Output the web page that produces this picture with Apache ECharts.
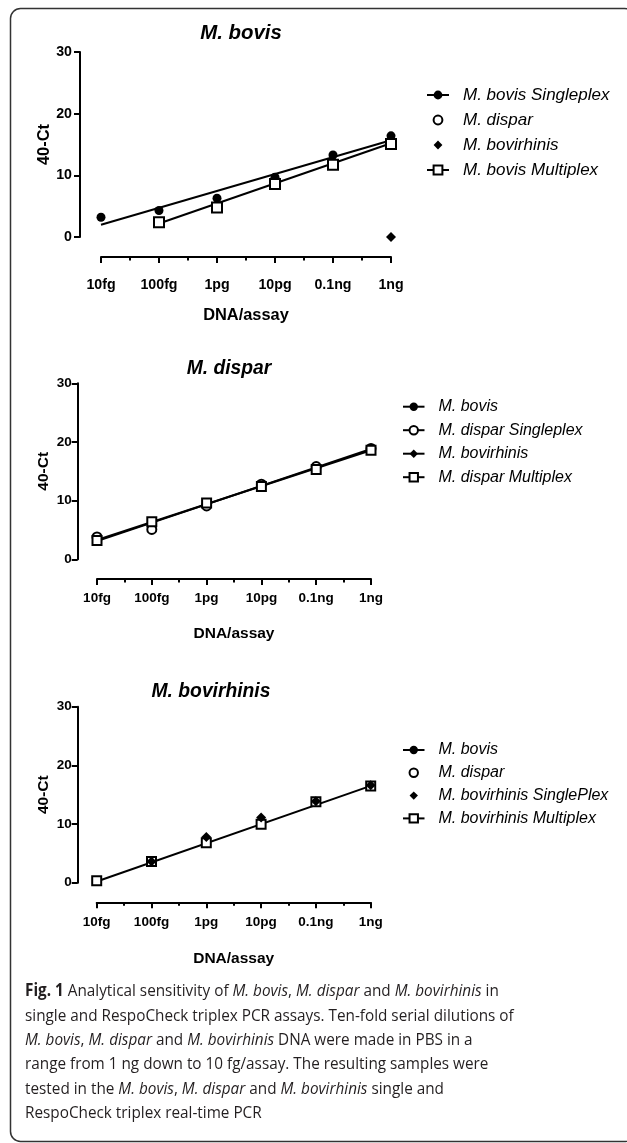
<!DOCTYPE html>
<html><head><meta charset="utf-8">
<script src="https://cdn.jsdelivr.net/npm/echarts@6/dist/echarts.min.js"></script>
<style>html,body{margin:0;padding:0;background:#fff}#c{width:627px;height:1143px}</style>
</head><body><div id="c"></div>
<script>
// ---------- data ----------
const doses = ['10fg', '100fg', '1pg', '10pg', '0.1ng', '1ng'];
const yTicks = [0, 10, 20, 30];

// Panel 1: M. bovis assay
const p1BovisSingle = [3.2, 4.3, 6.3, 9.7, 13.3, 16.4];
const p1Dispar = [];
const p1Bovirhinis = [null, null, null, null, null, 0.0];
const p1BovisMulti = [null, 2.4, 4.8, 8.6, 11.7, 15.1];
const p1SingleFit = [2.0, null, null, null, null, 15.7];
const p1MultiFit = [null, 2.2, null, null, null, 15.2];

// Panel 2: M. dispar assay
const p2Bovis = [];
const p2DisparSingle = [3.8, 5.1, 9.1, 12.8, 15.8, 18.9];
const p2Bovirhinis = [];
const p2DisparMulti = [3.2, 6.4, 9.6, 12.4, 15.3, 18.6];
const p2SingleFit = [3.1, null, null, null, null, 18.8];
const p2MultiFit = [3.3, null, null, null, null, 18.6];

// Panel 3: M. bovirhinis assay
const p3Bovis = [];
const p3Dispar = [];
const p3BovirhinisSingle = [null, 3.6, 7.8, 11.1, 13.9, 16.6];
const p3BovirhinisMulti = [0.35, 3.6, 6.8, 9.95, 13.8, 16.5];
const p3MultiFit = [0.2, null, null, null, null, 16.5];

const titles = ['M. bovis', 'M. dispar', 'M. bovirhinis'];
const captionLines = [
  '{b|Fig. 1} Analytical sensitivity of {i|M. bovis}, {i|M. dispar} and {i|M. bovirhinis} in',
  'single and RespoCheck triplex PCR assays. Ten-fold serial dilutions of',
  '{i|M. bovis}, {i|M. dispar} and {i|M. bovirhinis} DNA were made in PBS in a',
  'range from 1 ng down to 10 fg/assay. The resulting samples were',
  'tested in the {i|M. bovis}, {i|M. dispar} and {i|M. bovirhinis} single and',
  'RespoCheck triplex real-time PCR'
];

// ---------- styles / layout ----------
const FF = '"Liberation Sans", Arial, sans-serif';
const CF = '"Open Sans", "Noto Sans", sans-serif';
const FILLED_CIRCLE = {symbol: 'circle', itemStyle: {color: '#000'}};
const OPEN_CIRCLE = {symbol: 'circle', itemStyle: {color: '#fff', borderColor: '#000', borderWidth: 2}};
const DIAMOND = {symbol: 'diamond', itemStyle: {color: '#000'}};
const OPEN_SQUARE = {symbol: 'rect', itemStyle: {color: '#fff', borderColor: '#000', borderWidth: 2}};

const layout = [
  {grid: {left: 101, top: 52, width: 290, height: 185}, yOff: 21, xOff: 20, fs: 14.2, nfs: 16.4, xMargin: 21, yMargin: 8, yNameGap: 28, xNameGap: 50,
   title: {x: 241, y: 33, fs: 20.4},
   legend: {left: 426, top: 86.5, iw: 22, ih: 11, gap: 8, fs: 17}},
  {grid: {left: 97, top: 383.3, width: 274, height: 176}, yOff: 19.3, xOff: 19.7, fs: 13.5, nfs: 15.5, xMargin: 12.5, yMargin: 6, yNameGap: 26, xNameGap: 47,
   title: {x: 229, y: 369, fs: 19.3},
   legend: {left: 402, top: 398.7, iw: 21.5, ih: 10.5, gap: 7.5, fs: 16}},
  {grid: {left: 96.7, top: 706.7, width: 274, height: 176}, yOff: 19, xOff: 19.6, fs: 13.5, nfs: 15.5, xMargin: 12.5, yMargin: 6, yNameGap: 26, xNameGap: 48,
   title: {x: 211, y: 691.7, fs: 19.3},
   legend: {left: 402, top: 742, iw: 21.5, ih: 10.5, gap: 6.8, fs: 16}}
];

function pts(arr) {
  const out = [];
  arr.forEach((v, i) => { if (v != null) out.push([i, v]); });
  return out;
}
function ptSeries(name, idx, arr, sty, size, z) {
  return {type: 'line', name: name, xAxisIndex: idx, yAxisIndex: idx, data: pts(arr),
    symbol: sty.symbol, symbolSize: size, showSymbol: true, itemStyle: sty.itemStyle,
    lineStyle: {color: '#000', width: 2, opacity: 0}, z: z, emphasis: {disabled: true}};
}
function fitSeries(name, idx, arr) {
  return {type: 'line', name: name, xAxisIndex: idx, yAxisIndex: idx, data: pts(arr),
    symbol: 'none', lineStyle: {color: '#000', width: 2}, z: 1, emphasis: {disabled: true}};
}

const series = [
  fitSeries('fit1s', 0, p1SingleFit),
  fitSeries('fit1m', 0, p1MultiFit),
  ptSeries('M. bovis Singleplex', 0, p1BovisSingle, FILLED_CIRCLE, 9, 3),
  ptSeries('M. dispar', 0, p1Dispar, OPEN_CIRCLE, 9, 3),
  ptSeries('M. bovirhinis', 0, p1Bovirhinis, DIAMOND, 10, 3),
  ptSeries('M. bovis Multiplex', 0, p1BovisMulti, OPEN_SQUARE, 10, 4),

  fitSeries('fit2s', 1, p2SingleFit),
  fitSeries('fit2m', 1, p2MultiFit),
  ptSeries('M. bovis', 1, p2Bovis, FILLED_CIRCLE, 9, 3),
  ptSeries('M. dispar Singleplex', 1, p2DisparSingle, OPEN_CIRCLE, 9, 3),
  ptSeries('M. bovirhinis', 1, p2Bovirhinis, DIAMOND, 10, 3),
  ptSeries('M. dispar Multiplex', 1, p2DisparMulti, OPEN_SQUARE, 9, 4),

  fitSeries('fit3m', 2, p3MultiFit),
  ptSeries('M. bovis', 2, p3Bovis, FILLED_CIRCLE, 9, 3),
  ptSeries('M. dispar', 2, p3Dispar, OPEN_CIRCLE, 9, 3),
  ptSeries('M. bovirhinis Multiplex', 2, p3BovirhinisMulti, OPEN_SQUARE, 9, 3),
  ptSeries('M. bovirhinis SinglePlex', 2, p3BovirhinisSingle, DIAMOND, 10, 4)
];

const legendItems = [
  [['M. bovis Singleplex', 1], ['M. dispar', 0], ['M. bovirhinis', 0], ['M. bovis Multiplex', 1]],
  [['M. bovis', 1], ['M. dispar Singleplex', 1], ['M. bovirhinis', 1], ['M. dispar Multiplex', 1]],
  [['M. bovis', 1], ['M. dispar', 0], ['M. bovirhinis SinglePlex', 0], ['M. bovirhinis Multiplex', 1]]
];

const grids = [], xAxes = [], yAxes = [], legends = [], graphics = [];
layout.forEach((L, i) => {
  grids.push(Object.assign({containLabel: false}, L.grid));
  xAxes.push({
    type: 'value', gridIndex: i, min: 0, max: doses.length - 1, interval: 1, position: 'bottom', offset: L.xOff,
    axisLine: {show: true, onZero: false, lineStyle: {color: '#000', width: 2}},
    axisTick: {show: true, length: 6, lineStyle: {color: '#000', width: 2}},
    minorTick: {show: true, splitNumber: 2, length: 3.5, lineStyle: {color: '#000', width: 2}},
    splitLine: {show: false},
    axisLabel: {formatter: v => doses[v], margin: L.xMargin, color: '#000', fontFamily: FF, fontWeight: 'bold', fontSize: L.fs},
    name: 'DNA/assay', nameLocation: 'middle', nameGap: L.xNameGap,
    nameTextStyle: {color: '#000', fontFamily: FF, fontWeight: 'bold', fontSize: L.nfs}
  });
  yAxes.push({
    type: 'value', gridIndex: i, min: yTicks[0], max: yTicks[yTicks.length - 1], interval: yTicks[1] - yTicks[0],
    position: 'left', offset: L.yOff,
    axisLine: {show: true, onZero: false, lineStyle: {color: '#000', width: 2}},
    axisTick: {show: true, length: 6, lineStyle: {color: '#000', width: 2}},
    splitLine: {show: false},
    axisLabel: {margin: L.yMargin, color: '#000', fontFamily: FF, fontWeight: 'bold', fontSize: L.fs},
    name: '40-Ct', nameLocation: 'middle', nameGap: L.yNameGap, nameRotate: 90,
    nameTextStyle: {color: '#000', fontFamily: FF, fontWeight: 'bold', fontSize: L.nfs}
  });
  legends.push({
    orient: 'vertical', left: L.legend.left, top: L.legend.top, itemWidth: L.legend.iw, itemHeight: L.legend.ih,
    itemGap: L.legend.gap, selectedMode: false, padding: 0,
    textStyle: {color: '#000', fontFamily: FF, fontStyle: 'italic', fontSize: L.legend.fs, padding: [0, 0, 0, 9]},
    data: legendItems[i].map(([n, line]) => ({name: n, lineStyle: {color: '#000', width: 2, opacity: line}}))
  });
  graphics.push({
    type: 'text', x: L.title.x, y: L.title.y, silent: true,
    style: {text: titles[i], textAlign: 'center', textVerticalAlign: 'middle', fill: '#000',
      font: 'italic bold ' + L.title.fs + 'px ' + FF}
  });
});

// frame
graphics.push({
  type: 'rect', silent: true, z: -1,
  shape: {x: 10.5, y: 8.5, width: 624, height: 1133, r: 10},
  style: {fill: 'none', stroke: '#333', lineWidth: 1.5}
});
// caption
const capFs = 17, capLh = 24.3;
graphics.push({
  type: 'text', x: 25, y: 979.5, scaleX: 0.9, silent: true,
  style: {
    text: captionLines.join('\n'), fill: '#231f20', textVerticalAlign: 'top', textAlign: 'left',
    font: capFs + 'px ' + CF, lineHeight: capLh,
    rich: {
      b: {font: 'bold ' + capFs + 'px ' + CF, lineHeight: capLh, fill: '#231f20'},
      i: {font: 'italic ' + capFs + 'px ' + CF, lineHeight: capLh, fill: '#231f20'}
    }
  }
});

const chart = echarts.init(document.getElementById('c'));
chart.setOption({
  animation: false,
  backgroundColor: '#fff',
  grid: grids, xAxis: xAxes, yAxis: yAxes, legend: legends,
  series: series,
  graphic: graphics
});
</script>
</body></html>
